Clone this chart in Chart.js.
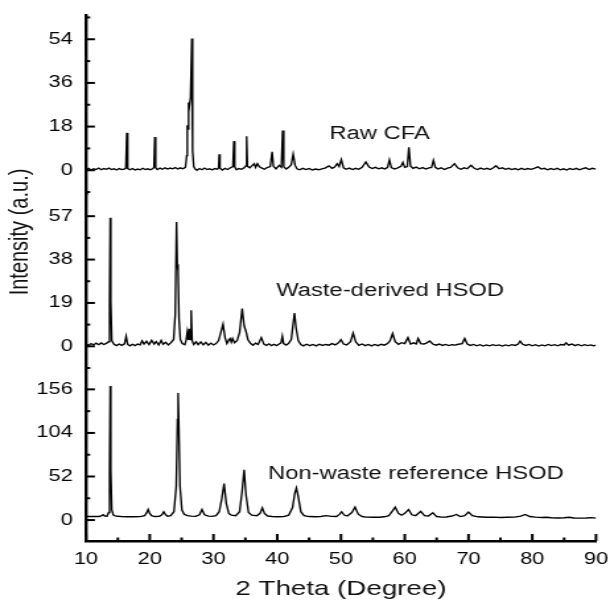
<!DOCTYPE html>
<html><head><meta charset="utf-8">
<script src="https://cdn.jsdelivr.net/npm/chart.js@4.4.1/dist/chart.umd.min.js"></script>
<style>html,body{margin:0;padding:0;background:#fff;overflow:hidden}</style>
</head><body>
<canvas id="c" width="462" height="600" style="width:610px;height:600px;display:block"></canvas>
<script>
// ---- data (2θ in degrees, intensity in a.u.) ----
const xTicks = [10, 20, 30, 40, 50, 60, 70, 80, 90];
const cfaTicks = [0, 18, 36, 54];
const wasteTicks = [0, 19, 38, 57];
const refTicks = [0, 52, 104, 156];

const seriesNames = ['Raw CFA', 'Waste-derived HSOD', 'Non-waste reference HSOD'];

const rawCFA = [
 [10.0,0.2],[10.4,0.8],[10.8,0.1],[11.2,0.6],[11.6,0.3],[12.0,0.9],[12.4,0.2],[12.8,0.7],[13.2,0.4],[13.6,0.9],
 [14.0,0.3],[14.4,0.6],[14.8,0.1],[15.2,0.7],[15.6,0.3],[16.0,0.5],[16.25,0.9],[16.4,15.4],[16.55,0.7],[16.9,0.2],
 [17.3,0.7],[17.7,0.1],[18.1,0.5],[18.5,0.2],[18.9,0.8],[19.3,0.3],[19.7,0.6],[20.1,0.2],[20.5,0.7],[20.67,1.2],
 [20.8,13.7],[20.93,1.0],[21.2,0.3],[21.6,0.9],[22.0,0.4],[22.4,1.0],[22.8,0.5],[23.2,0.9],[23.6,0.6],[24.0,1.1],
 [24.4,0.5],[24.8,1.0],[25.2,0.6],[25.6,1.2],[25.8,6.0],[25.9,18.5],[26.0,17.0],[26.1,27.9],[26.2,26.0],[26.4,30.0],
 [26.6,54.3],[26.72,8.0],[26.9,1.5],[27.1,0.6],[27.4,0.0],[27.8,0.7],[28.2,0.2],[28.6,0.9],[29.0,0.3],[29.4,0.6],
 [29.8,0.1],[30.2,0.7],[30.6,0.4],[30.8,1.0],[30.9,6.6],[31.02,0.8],[31.4,0.1],[31.8,0.8],[32.2,0.3],[32.6,0.9],
 [33.05,1.5],[33.2,12.0],[33.33,1.4],[33.6,0.2],[34.0,0.7],[34.4,0.4],[34.8,1.0],[35.07,1.8],[35.2,14.0],[35.33,1.6],
 [35.7,1.0],[36.0,1.8],[36.4,2.7],[36.6,1.2],[36.9,2.7],[37.2,1.4],[37.6,0.9],[38.0,0.4],[38.4,1.1],[38.9,1.5],
 [39.2,7.6],[39.4,1.6],[39.8,0.6],[40.3,2.0],[40.65,1.2],[40.85,16.4],[41.02,1.4],[41.4,0.5],[41.8,1.2],[42.2,2.3],
 [42.5,6.6],[42.8,2.0],[43.1,0.6],[43.5,0.2],[44.0,0.8],[44.5,0.3],[45.0,0.7],[45.5,0.1],[46.0,0.5],[46.5,0.2],
 [47.0,0.6],[47.5,0.9],[48.1,1.8],[48.6,0.8],[49.0,1.3],[49.4,2.7],[49.7,1.5],[50.05,4.4],[50.4,1.0],[50.8,0.4],
 [51.3,0.9],[51.8,0.3],[52.3,0.8],[52.8,0.4],[53.3,1.2],[53.9,3.4],[54.4,1.3],[54.9,0.7],[55.4,1.2],[55.9,0.6],
 [56.4,1.0],[56.9,0.5],[57.3,1.2],[57.6,4.3],[57.9,1.1],[58.4,0.5],[58.9,1.0],[59.4,1.6],[59.7,3.2],[60.0,1.2],
 [60.4,1.5],[60.65,9.5],[60.9,1.8],[61.3,0.8],[61.8,1.3],[62.3,0.6],[62.8,1.1],[63.3,0.5],[63.8,1.0],[64.2,1.2],
 [64.5,4.1],[64.8,1.2],[65.2,0.5],[65.7,1.0],[66.2,0.3],[66.7,0.9],[67.2,1.2],[67.8,2.7],[68.3,1.0],[68.8,0.4],
 [69.3,1.0],[69.8,0.6],[70.4,2.0],[70.9,0.8],[71.4,0.3],[71.9,0.9],[72.4,0.4],[72.9,0.8],[73.4,0.3],[73.9,1.0],
 [74.3,1.8],[74.8,0.6],[75.3,1.0],[75.8,0.4],[76.3,0.8],[76.8,0.3],[77.3,0.7],[77.8,0.2],[78.3,0.8],[78.8,0.3],
 [79.3,0.7],[79.8,0.4],[80.4,0.9],[80.9,1.4],[81.4,0.5],[81.9,0.8],[82.4,0.2],[82.9,0.7],[83.4,0.3],[83.9,0.8],
 [84.4,0.2],[84.9,0.6],[85.4,0.1],[85.9,0.7],[86.4,0.3],[86.9,0.8],[87.4,0.2],[87.9,0.7],[88.4,1.0],[88.9,0.3],
 [89.4,0.8],[90.0,0.5]
];

const wasteHSOD = [
 [10.0,1.0],[10.4,0.4],[10.8,1.2],[11.2,0.6],[11.6,1.4],[12.0,0.7],[12.4,1.5],[12.8,0.8],[13.2,1.3],[13.55,2.0],
 [13.7,20.0],[13.8,56.3],[13.9,20.0],[14.05,2.5],[14.4,0.9],[14.8,0.3],[15.2,1.0],[15.6,0.4],[16.05,1.1],[16.3,4.4],
 [16.55,0.8],[16.9,0.2],[17.3,0.9],[17.7,0.3],[18.1,1.0],[18.5,0.6],[18.8,2.4],[19.1,1.0],[19.5,2.2],[19.9,0.8],
 [20.3,2.6],[20.7,1.0],[21.0,2.1],[21.4,0.6],[21.8,2.6],[22.1,0.9],[22.5,1.8],[22.9,0.6],[23.3,1.5],[23.75,3.0],
 [24.0,14.0],[24.2,54.4],[24.32,36.0],[24.45,33.0],[24.6,12.0],[24.8,3.0],[25.1,1.2],[25.5,0.7],[25.7,2.5],[25.9,6.3],
 [26.05,2.8],[26.2,7.7],[26.35,3.0],[26.5,15.8],[26.65,2.5],[26.9,0.8],[27.3,2.0],[27.6,0.7],[28.0,1.9],[28.4,0.6],
 [28.8,1.7],[29.2,0.5],[29.6,1.4],[30.0,0.6],[30.4,1.2],[30.8,2.5],[31.2,6.5],[31.5,9.6],[31.8,4.0],[32.1,1.2],
 [32.4,2.8],[32.6,3.4],[32.8,1.8],[33.0,3.4],[33.3,1.6],[33.7,2.5],[34.1,6.0],[34.5,16.5],[34.8,9.0],[35.1,6.5],
 [35.4,3.0],[35.8,1.3],[36.2,0.5],[36.6,1.4],[37.0,0.8],[37.5,3.8],[37.9,1.0],[38.3,0.4],[38.7,1.1],[39.1,0.3],
 [39.5,0.9],[39.9,0.3],[40.3,1.0],[40.6,1.5],[40.8,4.4],[41.0,1.2],[41.4,0.5],[41.8,1.3],[42.2,3.0],[42.5,10.0],
 [42.7,14.6],[42.95,8.0],[43.3,2.5],[43.7,0.8],[44.1,0.2],[44.6,0.9],[45.1,0.3],[45.6,0.8],[46.1,0.2],[46.6,0.9],
 [47.1,0.4],[47.6,0.8],[48.1,0.5],[48.6,1.2],[49.1,0.6],[49.6,1.5],[50.0,2.9],[50.4,1.0],[50.9,0.6],[51.5,2.0],
 [51.9,5.8],[52.3,2.0],[52.8,0.4],[53.3,1.0],[53.8,0.3],[54.3,0.8],[54.8,0.2],[55.3,0.8],[55.8,0.3],[56.3,0.9],
 [56.8,0.5],[57.3,1.2],[57.7,2.5],[58.1,5.6],[58.5,2.0],[59.0,0.9],[59.5,1.6],[60.0,1.2],[60.5,3.8],[60.9,1.0],
 [61.4,1.5],[61.8,1.0],[62.1,3.4],[62.5,1.2],[63.0,1.0],[63.4,1.4],[63.9,2.3],[64.4,1.0],[64.9,0.5],[65.4,1.0],
 [65.9,0.4],[66.4,0.8],[66.9,0.3],[67.4,0.7],[67.9,0.5],[68.4,0.9],[69.0,1.2],[69.4,3.4],[69.8,1.0],[70.3,0.4],
 [70.8,0.8],[71.3,0.2],[71.8,0.7],[72.3,0.1],[72.8,0.6],[73.3,0.2],[73.8,0.7],[74.3,0.3],[74.8,0.6],[75.3,0.1],
 [75.8,0.6],[76.3,0.2],[76.8,0.7],[77.3,0.4],[77.8,1.0],[78.1,2.3],[78.5,0.9],[79.0,0.4],[79.5,0.8],[80.0,0.2],
 [80.5,0.7],[81.0,0.1],[81.5,0.6],[82.0,0.2],[82.5,0.8],[83.0,0.3],[83.5,0.7],[84.0,0.2],[84.5,0.8],[85.0,0.6],
 [85.3,1.5],[85.7,0.5],[86.2,1.0],[86.7,0.3],[87.2,0.8],[87.7,0.2],[88.2,0.7],[88.7,0.3],[89.2,0.6],[89.6,0.2],
 [90.0,0.5]
];

const refHSOD = [
 [10.0,4.2],[11.0,4.2],[12.0,4.3],[12.4,5.0],[12.7,6.4],[12.95,4.8],[13.3,4.6],[13.55,9.0],[13.7,60.0],[13.8,160.0],
 [13.9,60.0],[14.05,12.0],[14.3,6.0],[14.7,4.6],[15.5,4.2],[16.5,4.0],[17.5,3.9],[18.5,4.1],[19.2,5.2],[19.5,8.5],
 [19.75,12.6],[20.0,8.0],[20.3,5.2],[20.8,4.2],[21.5,4.4],[21.9,6.3],[22.2,9.9],[22.5,6.3],[22.8,4.6],[23.3,5.2],
 [23.8,10.0],[24.15,40.0],[24.35,120.0],[24.45,151.7],[24.55,120.0],[24.75,40.0],[25.05,12.0],[25.4,6.8],[25.9,5.2],[26.5,4.6],
 [27.2,4.4],[27.8,6.3],[28.2,12.6],[28.6,6.3],[29.2,4.6],[29.8,4.4],[30.4,5.2],[30.9,10.0],[31.3,25.0],[31.66,43.5],
 [32.0,20.0],[32.4,8.0],[32.8,5.8],[33.5,5.2],[34.1,10.0],[34.5,35.0],[34.8,60.0],[35.1,30.0],[35.5,9.0],[36.0,5.8],
 [36.8,5.2],[37.3,8.0],[37.66,14.6],[38.0,8.0],[38.5,4.8],[39.2,4.2],[40.0,4.0],[41.0,4.1],[41.8,5.8],[42.4,15.0],
 [42.75,32.0],[43.0,38.3],[43.3,28.0],[43.7,10.0],[44.2,5.2],[45.0,4.2],[46.0,4.0],[46.8,4.2],[47.7,5.2],[48.5,4.4],
 [49.3,4.2],[49.8,7.0],[50.1,9.9],[50.5,6.0],[51.0,4.8],[51.7,9.0],[52.2,15.4],[52.7,7.0],[53.3,4.2],[54.0,3.5],
 [55.0,3.3],[56.0,3.3],[56.8,3.9],[57.5,5.2],[58.0,10.0],[58.5,15.4],[59.0,8.0],[59.5,5.8],[60.0,8.0],[60.6,12.6],
 [61.1,6.3],[61.7,5.2],[62.5,10.3],[63.1,5.2],[63.7,4.8],[64.4,8.7],[65.0,4.2],[65.8,3.5],[66.5,3.7],[67.4,4.8],
 [68.1,6.7],[68.7,4.2],[69.4,5.2],[70.0,9.5],[70.6,5.2],[71.5,3.9],[72.8,3.3],[74.0,3.5],[75.0,3.1],[76.0,3.3],
 [77.2,3.5],[78.2,4.8],[78.9,6.7],[79.6,4.2],[80.5,3.5],[81.5,3.1],[82.2,3.3],[83.0,2.7],[84.0,2.5],[85.0,2.7],
 [85.8,3.3],[86.5,2.5],[87.5,2.3],[88.5,2.5],[89.2,2.9],[90.0,2.3]
];

// ---- rendering ----
const FONT = '"Liberation Sans", Arial, Helvetica, sans-serif';
Chart.defaults.font.family = FONT;
Chart.defaults.color = '#000';

const toXY = arr => arr.map(p => ({x: p[0], y: p[1]}));

function yAxis(ticks, min, max, weight) {
  return {
    type: 'linear', position: 'left', stack: 'panels', stackWeight: weight,
    min: min, max: max,
    grid: {display: false, drawTicks: false},
    border: {display: true, color: '#000', width: 2.4},
    ticks: {font: {size: 16.5}, color: '#000', padding: 10, autoSkip: false},
    afterBuildTicks: s => { s.ticks = ticks.map(v => ({value: v})); },
    afterFit: s => { s.width = 65.1; s.paddingTop = 0; s.paddingBottom = 0; }
  };
}

const annotations = [
  {text: seriesNames[0], axis: 'yTop', x: 48.2, y: 14.8},
  {text: seriesNames[1], axis: 'yMid', x: 39.86, y: 24},
  {text: seriesNames[2], axis: 'yBot', x: 38.55, y: 54.7}
];

const decorPlugin = {
  id: 'decor',
  afterDraw(chart) {
    const ctx = chart.ctx;
    const area = chart.chartArea;
    const xs = chart.scales.x;
    ctx.save();
    ctx.strokeStyle = '#000';
    // inward y ticks
    ctx.lineWidth = 2;
    [['yTop', cfaTicks], ['yMid', wasteTicks], ['yBot', refTicks]].forEach(([id, tk]) => {
      const s = chart.scales[id];
      const step = tk[1] - tk[0];
      const minors = [];
      for (let v = tk[0] - step / 2; v <= tk[tk.length - 1] + step; v += step) {
        if (v >= s.min - 1e-9 && v < s.max - 1e-9) minors.push(v);
      }
      tk.forEach(v => {
        const y = s.getPixelForValue(v);
        ctx.beginPath(); ctx.moveTo(area.left, y); ctx.lineTo(area.left + 6.8, y); ctx.stroke();
      });
      minors.forEach(v => {
        const y = s.getPixelForValue(v);
        ctx.beginPath(); ctx.moveTo(area.left, y); ctx.lineTo(area.left + 3.2, y); ctx.stroke();
      });
    });
    // inward x ticks
    ctx.lineWidth = 2;
    xTicks.forEach((v, i) => {
      const x = xs.getPixelForValue(v);
      ctx.beginPath(); ctx.moveTo(x, area.bottom); ctx.lineTo(x, area.bottom - 7); ctx.stroke();
      if (i < xTicks.length - 1) {
        const xm = xs.getPixelForValue((v + xTicks[i + 1]) / 2);
        ctx.beginPath(); ctx.moveTo(xm, area.bottom); ctx.lineTo(xm, area.bottom - 3.5); ctx.stroke();
      }
    });
    // series labels
    ctx.fillStyle = '#111';
    ctx.font = '18px ' + FONT;
    ctx.textAlign = 'left';
    ctx.textBaseline = 'middle';
    annotations.forEach(a => {
      ctx.fillText(a.text, xs.getPixelForValue(a.x), chart.scales[a.axis].getPixelForValue(a.y));
    });
    // y axis title
    ctx.font = '20px ' + FONT;
    ctx.textAlign = 'center';
    ctx.translate(15.2, 232);
    ctx.rotate(-Math.PI / 2);
    ctx.fillText('Intensity (a.u.)', 0, 0);
    ctx.restore();
  }
};

const lineStyle = {borderColor: '#000', borderWidth: 1.35, pointRadius: 0, tension: 0, fill: false};

const chart = new Chart(document.getElementById('c'), {
  type: 'line',
  data: {
    datasets: [
      Object.assign({label: seriesNames[2], data: toXY(refHSOD), yAxisID: 'yBot'}, lineStyle),
      Object.assign({label: seriesNames[1], data: toXY(wasteHSOD), yAxisID: 'yMid'}, lineStyle),
      Object.assign({label: seriesNames[0], data: toXY(rawCFA), yAxisID: 'yTop'}, lineStyle)
    ]
  },
  options: {
    responsive: false,
    animation: false,
    devicePixelRatio: 1,
    layout: {padding: {left: 0, right: 10.6, top: 15, bottom: 0}},
    plugins: {legend: {display: false}, tooltip: {enabled: false}},
    scales: {
      x: {
        type: 'linear', position: 'bottom', min: 10, max: 90,
        grid: {display: false, drawTicks: false},
        border: {display: true, color: '#000', width: 2.6},
        ticks: {font: {size: 16.5}, color: '#000', padding: 9, autoSkip: false, maxRotation: 0},
        afterBuildTicks: s => { s.ticks = xTicks.map(v => ({value: v})); },
        afterFit: s => { s.height = 59; s.paddingLeft = 0; s.paddingRight = 0; },
        title: {display: true, text: '2 Theta (Degree)', font: {size: 21, lineHeight: 1.1}, color: '#111', padding: {top: 0, bottom: -1}}
      },
      yBot: yAxis(refTicks, -25, 181.5, 173),
      yMid: yAxis(wasteTicks, -9.5, 66.5, 173.5),
      yTop: yAxis(cfaTicks, -10, 64, 179.5)
    }
  },
  plugins: [decorPlugin]
});
document.getElementById('c').style.width = '610px';
document.getElementById('c').style.height = '600px';
</script></body></html>
